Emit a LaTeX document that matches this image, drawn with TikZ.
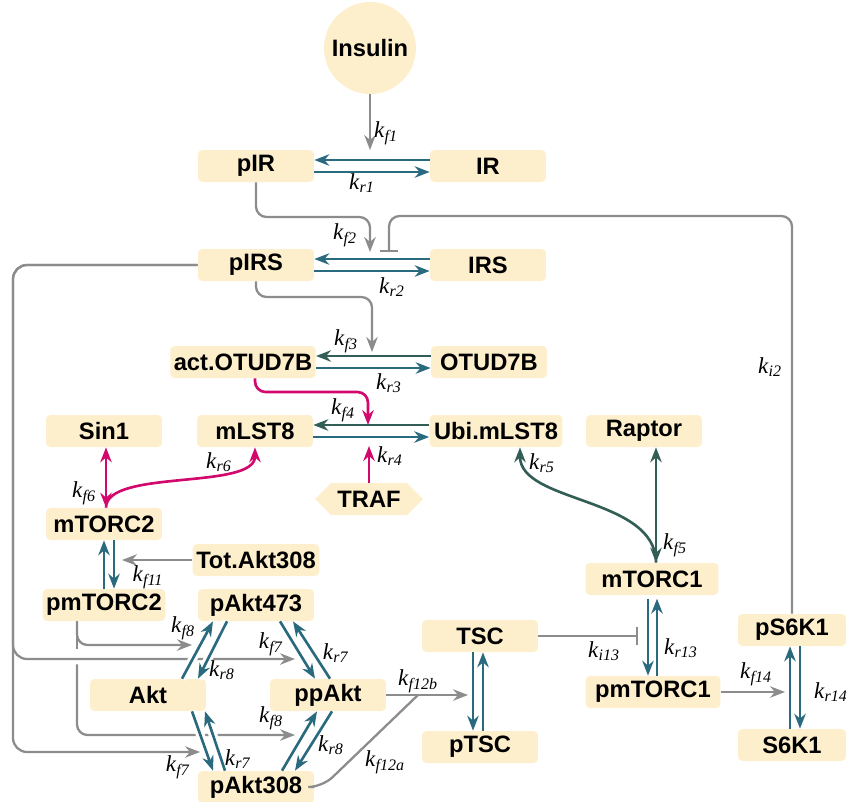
\documentclass[tikz,border=0pt]{standalone}
\usepackage{fontspec}
\setmainfont{Liberation Serif}
\setsansfont{Liberation Sans}
\usetikzlibrary{arrows.meta,positioning,calc,shapes.symbols}

\definecolor{boxfill}{RGB}{254,239,204}
\definecolor{tealb}{RGB}{42,106,126}
\definecolor{tealg}{RGB}{50,94,86}
\definecolor{grayl}{RGB}{140,140,140}
\definecolor{magen}{RGB}{210,8,108}

\newcommand{\krate}[1]{\textit{k}\textsubscript{\textit{#1}}}

\begin{document}
\begin{tikzpicture}[x=0.02cm, y=-0.02cm,
    >={Stealth[length=8.5pt,width=6.5pt]},
    species/.style={fill=boxfill, rounded corners=2.5pt, minimum width=2.32cm, minimum height=0.64cm, inner sep=2pt, font=\sffamily\bfseries\fontsize{13.5}{15}\selectfont},
    rxn/.style={->, line width=1.5pt, draw=tealb},
    rxng/.style={->, line width=1.5pt, draw=tealg},
    rxnx/.style={rxn, preaction={draw=white, line width=5pt, -}},
    flux/.style={line width=1.3pt, draw=grayl},
    mag/.style={line width=1.5pt, draw=magen},
    inh/.style={flux, -{Bar[width=10pt]}},
    lbl/.style={inner sep=0pt, font=\fontsize{13}{15}\selectfont}
]
\useasboundingbox (0,0) rectangle (846,802);

% species
\node[species, circle, minimum size=1.84cm] (ins) at (370,48) {Insulin};
\node[species] (pir) at (256,166) {pIR};
\node[species] (ir) at (488,166) {IR};
\node[species] (pirs) at (256,265) {pIRS};
\node[species] (irs) at (488,265) {IRS};
\node[species, minimum width=2.78cm] (aotud) at (243,362) {act.OTUD7B};
\node[species] (otud) at (489,362) {OTUD7B};
\node[species] (sin1) at (104,431) {Sin1};
\node[species] (mlst8) at (255,431) {mLST8};
\node[species, minimum width=2.66cm] (ubi) at (496,431) {Ubi.mLST8};
\node[species] (raptor) at (644,431) {Raptor};
\node[species, signal, signal to=east and west, minimum width=2.16cm, rounded corners=0pt] (traf) at (369,499) {TRAF};
\node[species] (mtorc2) at (104,524) {mTORC2};
\node[species] (totakt) at (256,560) {Tot.Akt308};
\node[species, minimum width=2.66cm] (mtorc1) at (652,579) {mTORC1};
\node[species] (pmtorc2) at (104,605) {pmTORC2};
\node[species] (pakt473) at (256,605) {pAkt473};
\node[species] (tsc) at (480,636) {TSC};
\node[species, minimum width=2.16cm] (ps6k1) at (792,630) {pS6K1};
\node[species] (akt) at (148,695) {Akt};
\node[species] (ppakt) at (328,695) {ppAkt};
\node[species, minimum width=2.7cm] (pmtorc1) at (653,692) {pmTORC1};
\node[species] (ptsc) at (480,747) {pTSC};
\node[species, minimum width=2.16cm] (s6k1) at (792,745) {S6K1};
\node[species] (pakt308) at (256,787) {pAkt308};

% free ends of the modifier arrows
\coordinate (r1) at (370,150);
\coordinate (r2) at (370,252);
\coordinate (i2) at (389,252);
\coordinate (fb) at (389,216);
\coordinate (r3) at (372,352);
\coordinate (r4) at (368,425);
\coordinate (r4b) at (369,446);
\coordinate (r11) at (122,560);
\coordinate (r8a) at (192,645);
\coordinate (r7a) at (295,659);
\coordinate (r8b) at (295,735);
\coordinate (r7b) at (200,752);
\coordinate (r12) at (468,695);
\coordinate (j12) at (418,695);
\coordinate (i13) at (638,636);
\coordinate (r14) at (785,692);

% gray modifiers
\draw[flux, ->] (ins) -- (r1);
\draw[flux, ->, rounded corners=6pt] (pir.south) |- ($(r2)+(0,-35)$) -- (r2);
\draw[inh, rounded corners=6pt] (ps6k1.north) |- (fb) -- (i2);
\draw[flux, ->, rounded corners=6pt] (pirs.south) |- ($(r3)+(0,-55)$) -- (r3);
\draw[flux, ->, rounded corners=8pt] (pirs.west) -| ($(r7a)+(-282,0)$) -- (r7a);
\draw[flux, ->, rounded corners=8pt] (pirs.west) -| ($(r7b)+(-187,0)$) -- (r7b);
\draw[flux, ->, rounded corners=6pt] ($(pmtorc2.south)+(-27,0)$) |- (r8a);
\draw[flux] ($(pmtorc2.south)+(-27,0)$) -- ++(0,28);
\draw[flux, ->, rounded corners=6pt] ($(pmtorc2.south)+(-27,43)$) |- (r8b);
\draw[flux, ->] (totakt) -- (r11);
\draw[flux, ->] (ppakt.east) -- (r12);
\draw[flux, rounded corners=8pt] (pakt308.east) -- ++(8,0) -- (j12);
\draw[inh] (tsc.east) -- (i13);
\draw[flux, ->] (pmtorc1.east) -- (r14);

% magenta
\draw[mag, ->, rounded corners=6pt] ($(aotud.south)+(12,0)$) |- ($(r4)+(0,-33)$) -- (r4);
\draw[mag, ->] (traf.north) -- (r4b);
\draw[mag, <->] ($(sin1.south)+(2,0)$) -- ($(mtorc2.north)+(2,0)$);
\draw[mag, ->] ($(mtorc2.north)+(2,0)$) .. controls +(0,-39) and +(0,43) .. (mlst8.south);

% reversible steps
\draw[rxn] ($(ir.west)+(0,-6)$) -- ($(pir.east)+(0,-6)$);
\draw[rxn] ($(pir.east)+(0,6)$) -- ($(ir.west)+(0,6)$);
\draw[rxn] ($(irs.west)+(0,-6)$) -- ($(pirs.east)+(0,-6)$);
\draw[rxn] ($(pirs.east)+(0,6)$) -- ($(irs.west)+(0,6)$);
\draw[rxng] ($(otud.west)+(0,-6)$) -- ($(aotud.east)+(0,-6)$);
\draw[rxn] ($(aotud.east)+(0,6)$) -- ($(otud.west)+(0,6)$);
\draw[rxng] ($(ubi.west)+(0,-6)$) -- ($(mlst8.east)+(0,-6)$);
\draw[rxn] ($(mlst8.east)+(0,6)$) -- ($(ubi.west)+(0,6)$);
\draw[rxng, <->] ($(raptor.south)+(12,0)$) -- ($(mtorc1.north)+(4,0)$);
\draw[rxng] ($(mtorc1.north)+(4,0)$) .. controls +(0,-66) and +(0,56) .. ($(ubi.south)+(24,0)$);
\draw[rxn] ($(pmtorc2.north)+(0,0)$) -- ($(mtorc2.south)+(0,0)$);
\draw[rxn] ($(mtorc2.south)+(10,0)$) -- ($(pmtorc2.north)+(10,0)$);
\draw[rxnx] ($(akt.north)+(34,0)$) -- ($(pakt473.south)+(-43,0)$);
\draw[rxnx] ($(pakt473.south)+(-29,0)$) -- ($(akt.north)+(50,0)$);
\draw[rxn] ($(pakt473.south)+(24,0)$) -- ($(ppakt.north)+(-13,0)$);
\draw[rxn] ($(ppakt.north)+(2,0)$) -- ($(pakt473.south)+(37,0)$);
\draw[rxnx] ($(akt.south)+(44,0)$) -- ($(pakt308.north)+(-43,0)$);
\draw[rxnx] ($(pakt308.north)+(-31,0)$) -- ($(akt.south)+(57,0)$);
\draw[rxn] ($(pakt308.north)+(26,0)$) -- ($(ppakt.south)+(-11,0)$);
\draw[rxn] ($(ppakt.south)+(4,0)$) -- ($(pakt308.north)+(39,0)$);
\draw[rxn] ($(tsc.south)+(-7,0)$) -- ($(ptsc.north)+(-7,0)$);
\draw[rxn] ($(ptsc.north)+(3,0)$) -- ($(tsc.south)+(3,0)$);
\draw[rxn] ($(mtorc1.north)+(-4,36)$) -- ($(pmtorc1.north)+(-5,0)$);
\draw[rxn] ($(pmtorc1.north)+(4,0)$) -- ($(mtorc1.north)+(5,36)$);
\draw[rxn] ($(s6k1.north)+(-2,0)$) -- ($(ps6k1.south)+(-2,0)$);
\draw[rxn] ($(ps6k1.south)+(8,0)$) -- ($(s6k1.north)+(8,0)$);

% rate labels
\node[lbl] (lf1) at (386,133) {\krate{f1}};
\node[lbl] (lr1) at (362,183) {\krate{r1}};
\node[lbl] (lf2) at (345,235) {\krate{f2}};
\node[lbl] (lr2) at (392,287) {\krate{r2}};
\node[lbl] (lf3) at (346,341) {\krate{f3}};
\node[lbl] (lr3) at (389,383) {\krate{r3}};
\node[lbl] (lf4) at (343,410) {\krate{f4}};
\node[lbl] (lr4) at (390,456) {\krate{r4}};
\node[lbl] (lr5) at (542,463) {\krate{r5}};
\node[lbl] (lf5) at (675,545) {\krate{f5}};
\node[lbl] (li2) at (770,367) {\krate{i2}};
\node[lbl] (lf6) at (84,493) {\krate{f6}};
\node[lbl] (lr6) at (219,462) {\krate{r6}};
\node[lbl] (lf11) at (148,577) {\krate{f11}};
\node[lbl] (lf8a) at (183,628) {\krate{f8}};
\node[lbl] (lr8a) at (222,670) {\krate{r8}};
\node[lbl] (lf7a) at (271,644) {\krate{f7}};
\node[lbl] (lr7a) at (336,653) {\krate{r7}};
\node[lbl] (lf8b) at (271,718) {\krate{f8}};
\node[lbl] (lr8b) at (331,745) {\krate{r8}};
\node[lbl] (lf7b) at (178,767) {\krate{f7}};
\node[lbl] (lr7b) at (238,759) {\krate{r7}};
\node[lbl] (lf12b) at (418,681) {\krate{f12b}};
\node[lbl] (lf12a) at (385,762) {\krate{f12a}};
\node[lbl] (li13) at (604,651) {\krate{i13}};
\node[lbl] (lr13) at (681,648) {\krate{r13}};
\node[lbl] (lf14) at (756,674) {\krate{f14}};
\node[lbl] (lr14) at (831,692) {\krate{r14}};
\end{tikzpicture}
\end{document}
